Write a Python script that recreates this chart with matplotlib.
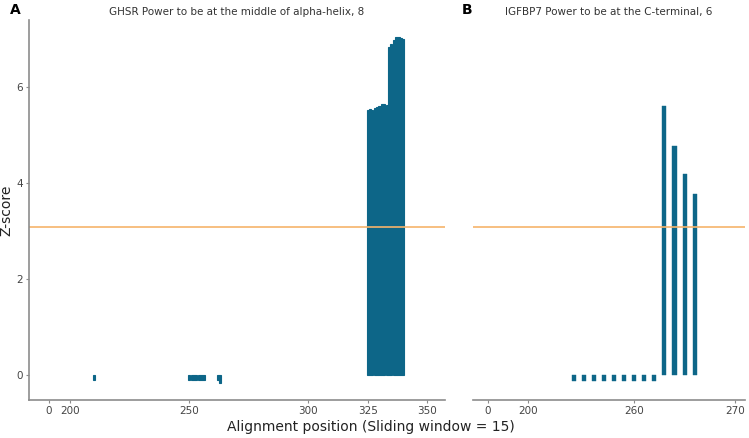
import matplotlib.pyplot as plt
import numpy as np

# panel A (GHSR)
a_pos = [210, 250, 251, 252, 253, 254, 255, 256, 262, 263,
         325, 326, 327, 328, 329, 330, 331, 332, 333, 334, 335, 336, 337, 338, 339, 340]
a_z = [-0.1, -0.1, -0.1, -0.1, -0.1, -0.1, -0.1, -0.1, -0.1, -0.17,
       5.52, 5.55, 5.53, 5.58, 5.6, 5.62, 5.65, 5.65, 5.63,
       6.85, 6.9, 6.98, 7.05, 7.05, 7.03, 7.0]
a_ticks = [191, 200, 250, 300, 325, 350]
a_labels = ['0', '200', '250', '300', '325', '350']

# panel B (IGFBP7)
b_pos = [254, 255, 256, 257, 258, 259, 260, 261, 262, 263, 264, 265, 266]
b_z = [-0.12] * 9 + [5.62, 4.78, 4.2, 3.78]
b_ticks = [245.5, 249.5, 260, 270]
b_labels = ['0', '200', '260', '270']

threshold = 3.09
bar_col = '#0d6688'
line_col = '#f6b46b'
grey = '#8c8c8c'

fig = plt.figure(figsize=(7.49, 4.38), dpi=100)
ax1 = fig.add_axes([0.0387, 0.0868, 0.555, 0.867])
ax2 = fig.add_axes([0.6315, 0.0868, 0.3632, 0.867])

ax1.bar(a_pos, a_z, width=0.9, color=bar_col, edgecolor=bar_col, linewidth=0.8)
ax2.bar(b_pos, b_z, width=0.4, color=bar_col, edgecolor=bar_col, linewidth=0.3)

ax1.set_xlim(182.6, 357.4)
ax2.set_xlim(244, 271)
for ax in (ax1, ax2):
    ax.set_ylim(-0.52, 7.4)
    ax.axhline(threshold, color=line_col, lw=1.2)
    for s in ['top', 'right']:
        ax.spines[s].set_visible(False)
    ax.spines['bottom'].set_color(grey)
    ax.spines['bottom'].set_linewidth(1.2)
    ax.tick_params(axis='both', length=2.5, color=grey, labelsize=7.5,
                   labelcolor='#444444', pad=2)

ax1.spines['left'].set_color(grey)
ax1.spines['left'].set_linewidth(1.2)
ax1.set_yticks([0, 2, 4, 6])
ax1.set_xticks(a_ticks)
ax1.set_xticklabels(a_labels)
ax1.set_ylabel('Z-score', fontsize=10, color='#222222', labelpad=2)

ax2.spines['left'].set_visible(False)
ax2.set_yticks([])
ax2.set_xticks(b_ticks)
ax2.set_xticklabels(b_labels)

ax1.set_title('GHSR Power to be at the middle of alpha-helix, 8', fontsize=7.5,
              color='#333333', pad=4)
ax2.set_title('IGFBP7 Power to be at the C-terminal, 6', fontsize=7.5,
              color='#333333', pad=4)
fig.text(0.013, 0.978, 'A', fontsize=10, fontweight='bold', va='center')
fig.text(0.617, 0.978, 'B', fontsize=10, fontweight='bold', va='center')
fig.text(0.495, 0.025, 'Alignment position (Sliding window = 15)', fontsize=10,
         color='#222222', ha='center', va='center')

fig.savefig('out.png', dpi=100)
